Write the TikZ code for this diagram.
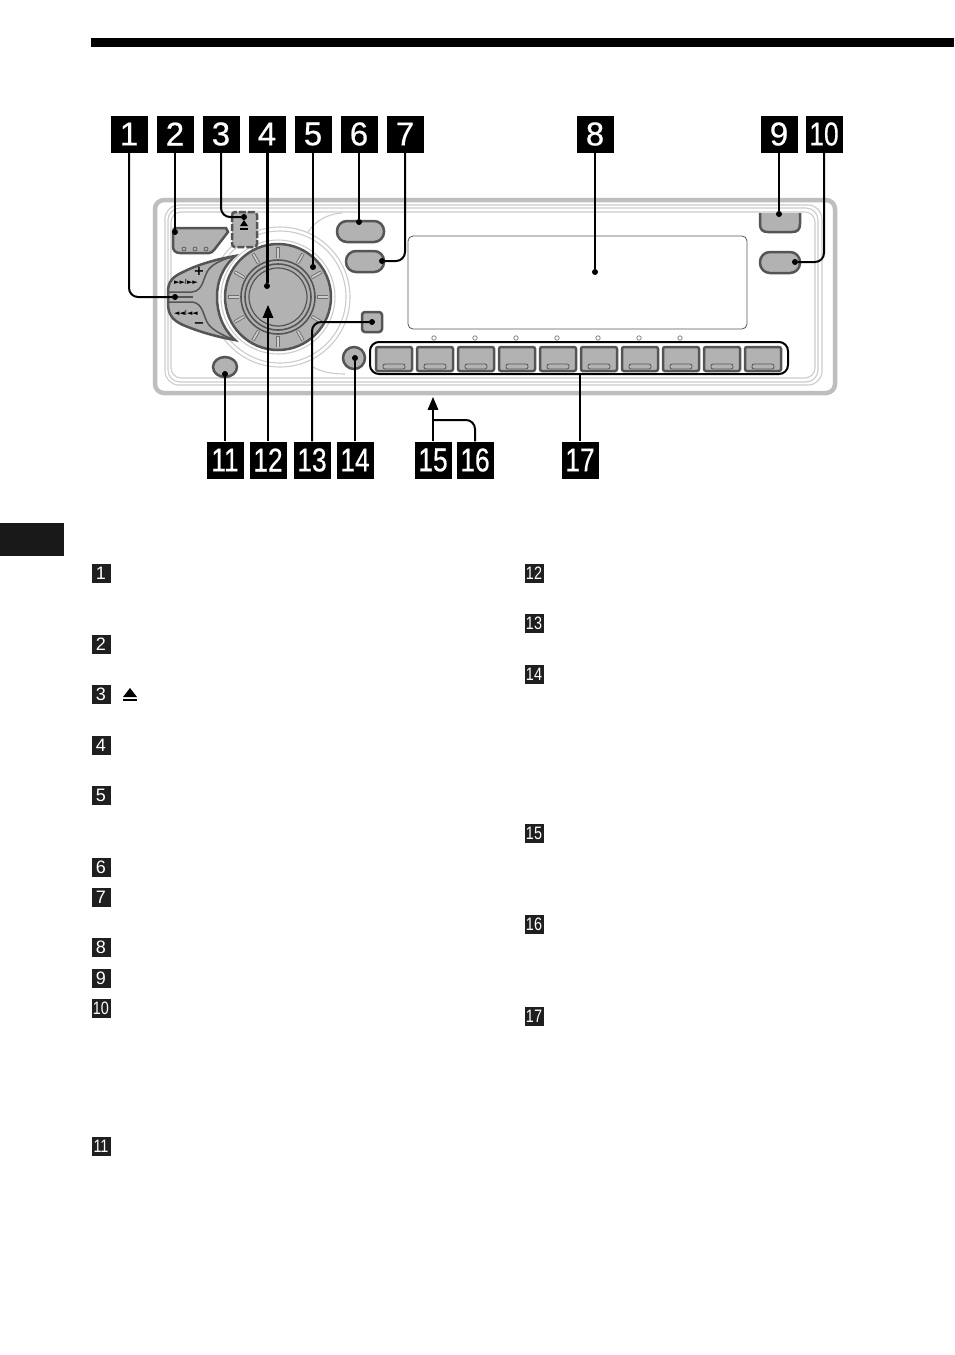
\documentclass[tikz,border=0pt]{standalone}
\usepackage{fontspec}
\setmainfont{Liberation Sans}
\newfontfamily\symfont{DejaVu Sans}
\newfontfamily\badgefont[FakeBold=.5]{Liberation Sans}
\usepackage{xcolor}
\usetikzlibrary{arrows}
\definecolor{knobgray}{HTML}{B2B2B2}
\definecolor{edgegray}{HTML}{555555}
\definecolor{framegray}{HTML}{BEBEBE}
\definecolor{ringgray}{HTML}{CCCCCC}
\newcommand{\badgenum}[1]{\ifnum#1>9 \scalebox{.8}[1]{#1}\else #1\fi}
\tikzset{
  bigbadge/.style={fill=black, text=white, minimum size=37, inner sep=0, font=\badgefont\fontsize{33}{33}\selectfont},
  smallbadge/.style={fill=black!88, text=white, minimum size=19, inner sep=0, font=\fontsize{18}{18}\selectfont},
  dot/.style={circle, fill=black, minimum size=6, inner sep=0},
  lead/.style={draw=black, line width=2, rounded corners=9},
  key/.style={draw=edgegray, fill=knobgray, line width=2.5},
  ring/.style={draw=ringgray, line width=1.1}
}
\begin{document}
\begin{tikzpicture}[x=1pt, y=-1pt]
  \useasboundingbox (0,0) rectangle (954,1355);
  \fill[white] (0,0) rectangle (954,1355);
  \fill[black] (91,38) rectangle (954,47);
  \fill[black!90] (0,523) rectangle (64,556);

  % frame of the panel
  \draw[framegray, line width=4.5, rounded corners=9] (155,200) rectangle (835,393);
  \draw[ring, rounded corners=14] (165,205) rectangle (822,385);
  \draw[ring, rounded corners=12] (168,208) rectangle (818,382);
  \draw[ring, rounded corners=10] (171,212) rectangle (815,378);

  % rings round the knob
  \draw[white, fill=white] (280,297) circle (70);
  \draw[ring] (280,297) circle (70);
  \draw[ring] (280,297) circle (66);
  \draw[ring] (278,297) circle (57);
  \draw[ring] (308,232) .. controls (316,220) and (328,214) .. (342,213);
  \draw[ring] (313,367) .. controls (322,372) and (332,374) .. (345,374);

  % knob
  \draw[key] (278,297) circle (53);
  \foreach \a in {0,30,...,330} {
    \draw[edgegray!85, line width=3.4] (\a:39) ++(278,297) -- ++(\a:11);
    \draw[ringgray, line width=1.6] (\a:39.5) ++(278,297) -- ++(\a:10);
  }
  \draw[edgegray, line width=1.6] (278,297) circle (37);
  \draw[edgegray, line width=1.6] (278,297) circle (33);
  \draw[edgegray, line width=1.2] (278,297) circle (29);

  % rocker
  \draw[key] (235,256) .. controls (212,260) and (195,266) .. (183,272)
    .. controls (172,277) and (168,282) .. (168,292) -- (168,303)
    .. controls (168,314) and (172,320) .. (183,325)
    .. controls (195,330) and (212,336) .. (235,340)
    .. controls (222,328) and (217,312) .. (217,297)
    .. controls (217,282) and (222,268) .. (235,256) -- cycle;
  \draw[edgegray, line width=1.5] (168,292) -- (192,292) .. controls (204,291) and (203,276) .. (209,269) .. controls (214,263) and (224,259) .. (235,256);
  \draw[edgegray, line width=1.5] (168,302) -- (192,302) .. controls (204,303) and (203,318) .. (209,325) .. controls (214,331) and (224,336) .. (235,340);
  \draw[edgegray, line width=1.4] (168,297) -- (193,297);
  \node[inner sep=0, font=\symfont\bfseries\fontsize{13}{13}\selectfont] (plus) at (199,271) {+};
  \node[inner sep=0, font=\symfont\bfseries\fontsize{13}{13}\selectfont] (minus) at (199,325) {−};
  \node[inner sep=0, font=\symfont\fontsize{7}{7}\selectfont] (next) at (186,282) {►►I►►};
  \node[inner sep=0, font=\symfont\fontsize{7}{7}\selectfont] (prev) at (186,313) {◄◄I◄◄};

  % keys
  \draw[key] (173,232) .. controls (173,229) and (174,228) .. (177,228) -- (226,228) -- (228,232) -- (214,250)
    .. controls (212,252) and (211,253) .. (209,253) -- (180,253) .. controls (175,253) and (173,250) .. (173,246) -- cycle;
  \foreach \x in {184,195,206}
    \draw[edgegray, line width=.7] (\x,249) circle (2);
  \draw[key, dash pattern=on 7 off 2, rounded corners=3] (232,212) rectangle (257,247);
  \fill[black] (240,226) -- (248,226) -- (244,220) -- cycle;
  \fill[black] (240,227.5) rectangle (248,230);
  \draw[key, rounded corners=10] (337,221) rectangle (384,242);
  \draw[key, rounded corners=10] (346,251) rectangle (384,272);
  \fill[knobgray] (760,213) rectangle (800,224);
  \draw[key] (760,213) -- (760,224) .. controls (760,230) and (763,232) .. (768,232) -- (792,232) .. controls (797,232) and (800,230) .. (800,224) -- (800,213);
  \draw[key, rounded corners=10] (760,252) rectangle (800,273);
  \draw[key] (225,367) ellipse (12 and 10);
  \draw[key, rounded corners=3] (362,312) rectangle (382,332);
  \draw[key] (354,358) circle (11);

  % display and presets
  \draw[edgegray, line width=.8, rounded corners=5] (408,236) rectangle (747,329);
  \foreach \x in {434,475,516,557,598,639,680}
    \draw[edgegray!70, line width=.8] (\x,338) circle (2.2);
  \draw[black, line width=2, rounded corners=9] (370,342) rectangle (788,374);
  \foreach \x in {376,417,458,499,540,581,622,663,704,745} {
    \draw[key, rounded corners=2] (\x,347) rectangle ++(36,24);
    \draw[edgegray, line width=.8, rounded corners=2] (\x+7,364) rectangle ++(22,5);
  }

  % numbered callouts
  \foreach \n/\x in {1/129,2/175,3/221,4/267,5/313,6/359,7/405,8/595,9/779,10/824}
    \node[bigbadge] (b\n) at (\x,134) {\badgenum{\n}};
  \foreach \n/\x in {11/225,12/268,13/312,14/355,15/433,16/475,17/580}
    \node[bigbadge] (b\n) at (\x,460) {\badgenum{\n}};
  \foreach \n/\x/\y in {1/175/297,2/175/232,3/244/217,4/267/286,5/313/267,6/359/222,7/382/261,8/595/272,9/779/214,10/795/262,11/225/374,13/372/322,14/355/358}
    \node[dot] (d\n) at (\x,\y) {};
  \coordinate (t12) at (268,305);
  \coordinate (t15) at (433,397);
  \coordinate (j16) at (433,420);
  \coordinate (t17) at (580,374);

  \foreach \n in {1,3,7,10,13}
    \draw[lead] (b\n) |- (d\n);
  \foreach \n in {2,5,6,8,9,11,14}
    \draw[lead] (b\n) -- (d\n);
  \draw[lead, line width=3] (b4) -- (d4);
  \draw[lead, -triangle 45] (b12) -- (t12);
  \draw[lead, -triangle 45] (b15) -- (t15);
  \draw[lead] (b16) |- (j16);
  \draw[lead] (b17) -- (t17);

  % small callouts of the text columns
  \foreach \n/\y in {1/573,2/644,3/694,4/745,5/795,6/867,7/897,8/947,9/978,10/1008,11/1146}
    \node[smallbadge] (s\n) at (101,\y) {\badgenum{\n}};
  \foreach \n/\y in {12/573,13/623,14/674,15/833,16/924,17/1016}
    \node[smallbadge] (s\n) at (534,\y) {\badgenum{\n}};
  \fill[black] (123,697) -- (137,697) -- (130,688) -- cycle;
  \fill[black] (123,698.5) rectangle (137,701);
\end{tikzpicture}
\end{document}
